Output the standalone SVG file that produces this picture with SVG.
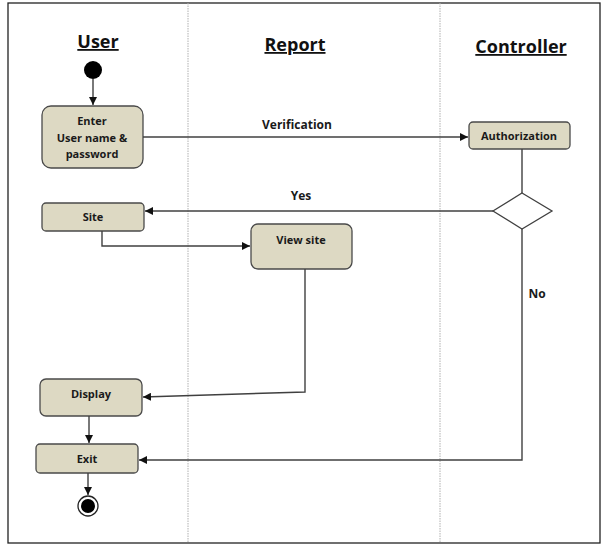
<svg xmlns="http://www.w3.org/2000/svg" width="611" height="551" viewBox="0 0 611 551">
<defs>
<style>
.box{fill:#ddd9c3;stroke:#4a4a4a;stroke-width:1.3}
.t{font-family:"Open Sans","Liberation Sans",sans-serif;font-weight:bold;font-size:11px;fill:#1a1a1a;text-anchor:middle}
.h{font-family:"Open Sans","Liberation Sans",sans-serif;font-weight:bold;font-size:18px;fill:#111;text-anchor:middle;text-decoration:underline}
.lbl{font-family:"Open Sans","Liberation Sans",sans-serif;font-weight:bold;font-size:12px;fill:#1a1a1a;text-anchor:middle}
.c{fill:none;stroke:#404040;stroke-width:1.4}
.lane{stroke:#b0b0b0;stroke-width:1;stroke-dasharray:1.5 1}
</style>
<marker id="arr" viewBox="0 0 10 10" refX="10" refY="5" markerWidth="8" markerHeight="8" markerUnits="userSpaceOnUse" orient="auto">
<path d="M0,0 L10,5 L0,10 z" fill="#111"/>
</marker>
</defs>
<rect width="611" height="551" fill="#fff"/>
<rect x="8" y="3" width="592" height="540" fill="none" stroke="#222" stroke-width="1.3"/>
<line class="lane" x1="188" y1="3" x2="188" y2="543"/>
<line class="lane" x1="440" y1="3" x2="440" y2="543"/>
<text class="h" x="98" y="48">User</text>
<text class="h" x="295" y="51">Report</text>
<text class="h" x="521" y="53">Controller</text>
<g id="start"><circle cx="93" cy="70" r="9" fill="#000"/></g>
<g id="enter"><rect class="box" x="42" y="106" width="101" height="62" rx="9"/>
<text class="t" x="92" y="125">Enter</text><text class="t" x="92" y="142">User name &amp;</text><text class="t" x="92" y="158">password</text></g>
<g id="authorization"><rect class="box" x="469" y="122" width="101" height="27" rx="4"/><text class="t" x="519" y="140">Authorization</text></g>
<g id="decision"><polygon points="522,193 552,211 522,229 493,211" fill="#fff" stroke="#404040" stroke-width="1.3"/></g>
<g id="site"><rect class="box" x="42" y="203" width="102" height="28" rx="4"/><text class="t" x="93" y="221">Site</text></g>
<g id="viewsite"><rect class="box" x="251" y="224" width="101" height="45" rx="7"/><text class="t" x="301" y="244">View site</text></g>
<g id="display"><rect class="box" x="40" y="379" width="102" height="37" rx="6"/><text class="t" x="91" y="398">Display</text></g>
<g id="exit"><rect class="box" x="36" y="444" width="102" height="29" rx="4"/><text class="t" x="87" y="463">Exit</text></g>
<g id="end"><circle cx="88" cy="506" r="10" fill="#fff" stroke="#222" stroke-width="1.3"/><circle cx="88" cy="506" r="7" fill="#000"/></g>
<g id="connectors">
<line class="c" x1="93" y1="79" x2="93" y2="105" marker-end="url(#arr)"/>
<line class="c" x1="143" y1="137" x2="468" y2="137" marker-end="url(#arr)"/>
<text class="lbl" x="297" y="129">Verification</text>
<line class="c" x1="522" y1="149" x2="522" y2="193"/>
<line class="c" x1="493" y1="211" x2="145" y2="211" marker-end="url(#arr)"/>
<text class="lbl" x="301" y="200">Yes</text>
<polyline class="c" points="102,231 102,246 250,246" marker-end="url(#arr)"/>
<polyline class="c" points="305,269 305,392 143,397" marker-end="url(#arr)"/>
<line class="c" x1="89" y1="416" x2="89" y2="443" marker-end="url(#arr)"/>
<polyline class="c" points="522,229 522,460 139,460" marker-end="url(#arr)"/>
<text class="lbl" x="537" y="298">No</text>
<line class="c" x1="88" y1="473" x2="88" y2="495" marker-end="url(#arr)"/>
</g>
</svg>
